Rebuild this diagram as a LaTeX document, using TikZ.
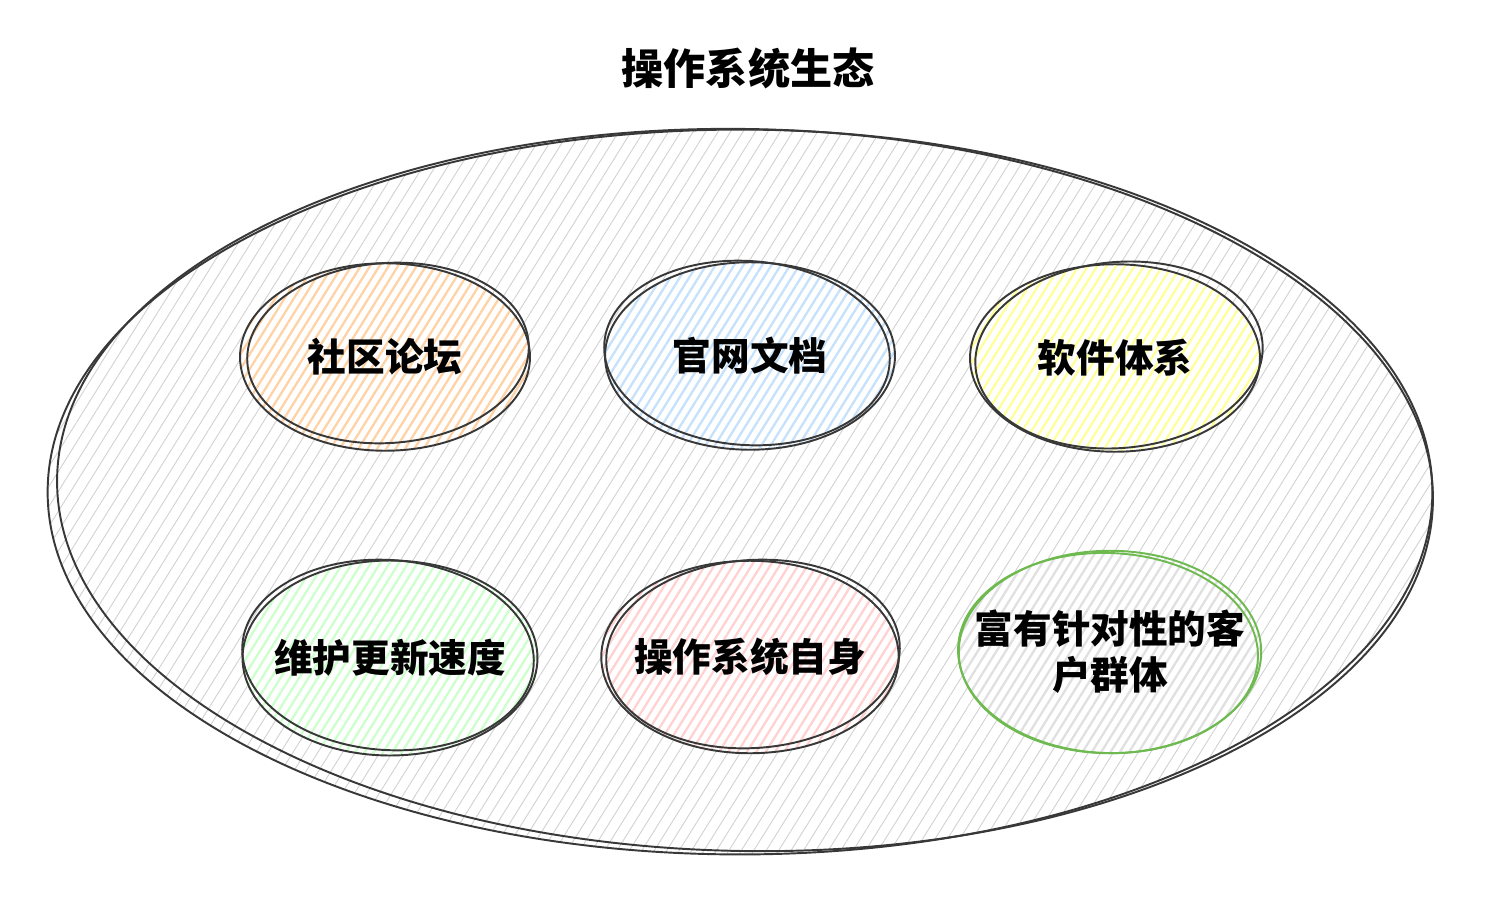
\documentclass[tikz,border=0pt]{standalone}
\usepackage{fontspec}
\setmainfont{Noto Sans CJK SC}
\usetikzlibrary{shapes.geometric,patterns.meta}

\definecolor{skyblue}{RGB}{150,200,248}
\definecolor{leafgreen}{RGB}{110,185,80}

\begin{document}
\begin{tikzpicture}[x=0.02cm, y=-0.02cm,
    outline/.style={line width=1.1pt, draw=black!78},
    hatch/.style={preaction={fill=white}, pattern={Lines[angle=58,distance=4.5pt,line width=1.3pt]}, pattern color=#1},
    topic/.style={ellipse, outline, minimum width=5.8cm, minimum height=3.75cm, inner xsep=-3cm, inner ysep=0pt, align=center, font=\fontsize{22}{26}\selectfont\bfseries}
]
    \useasboundingbox[fill=white] (0,0) rectangle (1488,903);
    \node[font=\fontsize{24}{28}\selectfont\bfseries] (title) at (748,68) {操作系统生态};

    % the whole ecosystem
    \node[ellipse, outline, minimum width=27.7cm, minimum height=14.5cm, pattern={Lines[angle=58,distance=6pt,line width=0.5pt]}, pattern color=black!18] (eco) at (740,492) {};
    \draw[outline] ([shift={(5,-2)}]eco.center) ellipse [x radius=688, y radius=361, rotate=-1];

    % first row
    \node[topic, hatch=orange!35] (forum) at (385,357) {社区论坛};
    \draw[outline] ([shift={(3,-4)}]forum.center) ellipse [x radius=141, y radius=90, rotate=4];
    \node[topic, hatch=skyblue!55] (docs) at (750,356) {官网文档};
    \draw[outline] ([shift={(-3,-3)}]docs.center) ellipse [x radius=143, y radius=92, rotate=-4];
    \node[topic, hatch=yellow!40] (soft) at (1115,358) {软件体系};
    \draw[outline] ([shift={(4,-3)}]soft.center) ellipse [x radius=144, y radius=93, rotate=5];

    % second row
    \node[topic, hatch=green!20, minimum width=5.9cm, minimum height=3.9cm] (update) at (390,658) {维护更新速度};
    \draw[outline] ([shift={(-2,-3)}]update.center) ellipse [x radius=146, y radius=95, rotate=-4];
    \node[topic, hatch=red!18, minimum width=5.95cm, minimum height=3.85cm] (self) at (750,657) {操作系统自身};
    \draw[outline] ([shift={(3,-3)}]self.center) ellipse [x radius=147, y radius=94, rotate=4];
    \node[topic, hatch=black!12, draw=leafgreen, minimum width=6.05cm, minimum height=4.05cm] (users) at (1110,652) {富有针对性的客\\户群体};
    \draw[line width=1.1pt, draw=leafgreen] ([shift={(-2,1)}]users.center) ellipse [x radius=150, y radius=100, rotate=-2];
\end{tikzpicture}
\end{document}
